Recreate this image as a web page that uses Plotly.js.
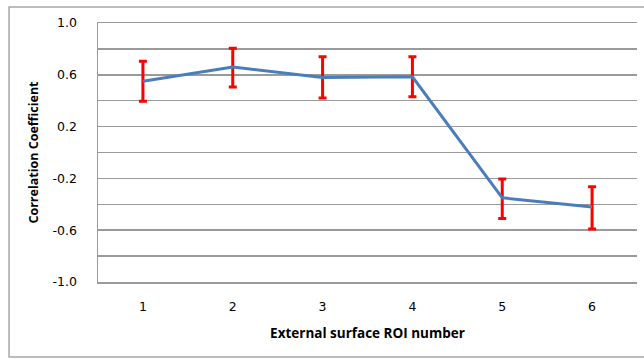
<!DOCTYPE html>
<html>
<head>
<meta charset="utf-8">
<script src="https://cdn.plot.ly/plotly-3.0.1.min.js"></script>
<style>
html,body{margin:0;padding:0;background:#fff;}
#chart{width:644px;height:359px;}
</style>
</head>
<body>
<div id="chart"></div>
<script>
var roi = [1, 2, 3, 4, 5, 6];
var corr = [0.55, 0.66, 0.58, 0.585, -0.35, -0.42];
var errPlus = [0.155, 0.145, 0.16, 0.155, 0.145, 0.155];
var errMinus = [0.155, 0.155, 0.16, 0.155, 0.16, 0.17];
var yTickVals = [-1.0, -0.8, -0.6, -0.4, -0.2, 0.0, 0.2, 0.4, 0.6, 0.8, 1.0];
var yTickText = ['-1.0', '', '-0.6', '', '-0.2', '', '0.2', '', '0.6', '', '1.0'];
var xTitle = 'External surface ROI number';
var yTitle = 'Correlation Coefficient';

var trace = {
  x: roi,
  y: corr,
  type: 'scatter',
  mode: 'lines',
  line: {color: '#4A7EBB', width: 3},
  error_y: {
    type: 'data',
    symmetric: false,
    array: errPlus,
    arrayminus: errMinus,
    color: '#FF0000',
    thickness: 3,
    width: 4
  },
  hoverinfo: 'none'
};

var layout = {
  width: 644,
  height: 359,
  margin: {l: 98, r: 7, t: 23, b: 77},
  paper_bgcolor: '#ffffff',
  plot_bgcolor: '#ffffff',
  showlegend: false,
  font: {family: 'DejaVu Sans, sans-serif', size: 12, color: '#000'},
  xaxis: {
    range: [0.5, 6.5],
    tickvals: roi,
    ticktext: roi.map(String),
    showgrid: false,
    zeroline: false,
    showline: true,
    mirror: true,
    linecolor: '#9a9a9a',
    linewidth: 1.5,
    ticks: '',
    tickfont: {family: 'DejaVu Sans, sans-serif', size: 12.5, color: '#000'},
    ticklabelstandoff: 12,
    title: {text: xTitle, font: {family: 'Open Sans, sans-serif', size: 13.5, color: '#000', weight: 'bold'}, standoff: 16}
  },
  yaxis: {
    range: [-1.0, 1.0],
    tickvals: yTickVals,
    ticktext: yTickText,
    showgrid: true,
    gridcolor: '#9a9a9a',
    gridwidth: 1.5,
    zeroline: false,
    showline: true,
    linecolor: '#9a9a9a',
    linewidth: 1.5,
    ticks: '',
    tickfont: {family: 'DejaVu Sans, sans-serif', size: 12.5, color: '#000'},
    ticklabelstandoff: 17,
    title: {text: yTitle, font: {family: 'Open Sans, sans-serif', size: 12.5, color: '#000', weight: 'bold'}, standoff: 11}
  },
  shapes: [{
    type: 'rect',
    xref: 'paper', yref: 'paper',
    x0: -0.165, x1: 1.03,
    y0: -0.29, y1: 1.062,
    line: {color: '#a6a6a6', width: 1.5},
    fillcolor: 'rgba(0,0,0,0)',
    layer: 'below'
  }]
};

Plotly.newPlot('chart', [trace], layout, {displayModeBar: false, staticPlot: true});
</script>
</body>
</html>
